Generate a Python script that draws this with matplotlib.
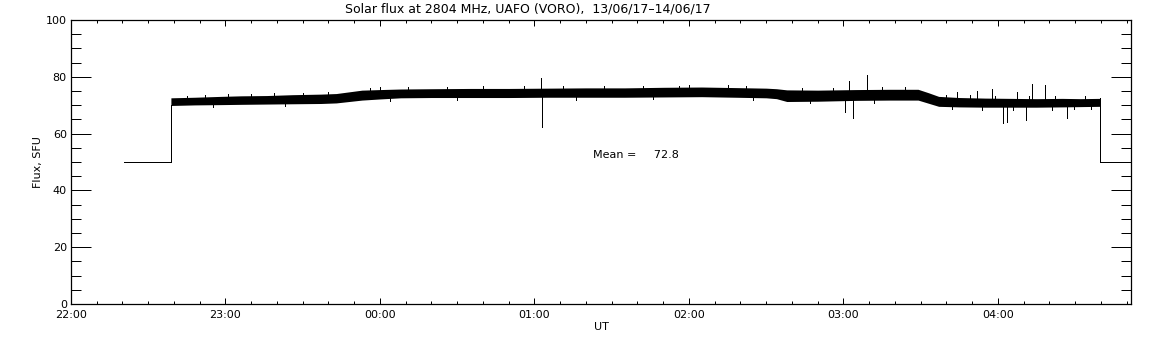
import matplotlib
matplotlib.use('Agg')
import matplotlib.pyplot as plt
from matplotlib.ticker import MultipleLocator, FuncFormatter

# --- data (minutes after 22:00 UT) ---
T_START = 20.6        # recording starts (flat 50 SFU)
T_ON = 38.8           # receiver on
T_OFF = 399.6         # receiver off
T_END = 411.7         # right edge of the axis
FLAT_LEVEL = 50.0
MEAN_FLUX = 72.8

# upper / lower edge of the noisy band
band_t = [38.8, 48, 58, 66, 76, 86, 97, 103, 108, 113, 120, 128, 140, 155,
          170, 185, 200, 215, 230, 245, 258, 270, 274, 278, 290, 305, 318,
          329, 333, 337, 345, 355, 365, 375, 385, 392, 399.6]
band_hi = [72.6, 72.8, 73.1, 73.3, 73.4, 73.7, 73.9, 74.1, 74.7, 75.3, 75.5,
           75.7, 75.8, 75.9, 75.9, 76.0, 76.1, 76.1, 76.3, 76.4, 76.2, 76.0,
           75.8, 75.4, 75.3, 75.5, 75.6, 75.6, 74.4, 73.1, 72.7, 72.5, 72.4,
           72.3, 72.4, 72.3, 72.4]
band_lo = [69.9, 70.1, 70.2, 70.3, 70.4, 70.5, 70.6, 70.8, 71.3, 71.8, 72.2,
           72.6, 72.7, 72.7, 72.7, 72.8, 72.8, 72.8, 72.9, 73.0, 72.8, 72.6,
           72.3, 71.3, 71.4, 71.7, 71.8, 71.8, 70.7, 69.6, 69.4, 69.3, 69.3,
           69.3, 69.4, 69.5, 69.6]

# isolated spikes (time, peak value)
spike_t = [182.5, 182.8, 302.1, 303.7, 309.1, 344.0, 351.8, 357.7, 361.9,
           363.5, 367.4, 370.9, 373.2, 378.3, 386.8, 389.7, 300.6, 236.0,
           120.0, 255.0]
spike_v = [79.6, 62.2, 78.5, 65.6, 80.6, 74.8, 75.0, 75.7, 63.6,
           64.2, 74.5, 64.8, 77.5, 77.0, 65.6, 68.7, 67.5, 76.8,
           76.3, 77.0]

# small ragged excursions at the band edges (time, value)
edge_t = [45, 52, 61, 70, 79, 90, 100, 116, 131, 146, 160, 176, 191, 207,
          222, 240, 262, 284, 296, 315, 324, 340, 349, 359, 372, 382, 394,
          55, 83, 124, 150, 196, 226, 265, 287, 312, 342, 354, 366, 381, 396]
edge_v = [73.3, 73.6, 73.8, 74.0, 74.2, 74.3, 74.6, 76.0, 76.4, 76.5, 76.6,
          76.7, 76.8, 76.9, 76.9, 77.0, 76.9, 76.1, 76.2, 76.3, 76.3, 73.6,
          73.5, 73.4, 73.3, 73.4, 73.3,
          69.3, 69.7, 71.6, 71.9, 72.0, 72.1, 71.9, 70.6, 70.9, 68.6, 68.3,
          68.2, 68.4, 68.7]

W, H = 1152, 345
fig = plt.figure(figsize=(W / 100, H / 100), dpi=100)
ax = fig.add_axes([71 / W, 41 / H, 1060 / W, 284 / H])

lw = 0.72
# flat parts and steps
ax.plot([T_START, T_ON, T_ON], [FLAT_LEVEL, FLAT_LEVEL, band_lo[0]],
        color='black', lw=lw, antialiased=False)
ax.plot([T_OFF, T_OFF, T_END], [band_hi[-1], FLAT_LEVEL, FLAT_LEVEL],
        color='black', lw=lw, antialiased=False)
ax.fill_between(band_t, band_lo, band_hi, color='black', lw=0)


def centre(t):
    i = min(range(len(band_t)), key=lambda k: abs(band_t[k] - t))
    return (band_hi[i] + band_lo[i]) / 2


for t, v in zip(spike_t + edge_t, spike_v + edge_v):
    ax.plot([t, t], [centre(t), v], color='black', lw=lw, antialiased=False)

ax.set_xlim(0, T_END)
ax.set_ylim(0, 100)

fs = 8
fig.text(528 / W, 1 - 9 / H,
         'Solar flux at 2804 MHz, UAFO (VORO),  13/06/17\u201314/06/17',
         fontsize=fs + 1, ha='center', va='center')
ax.set_xlabel('UT', fontsize=fs, labelpad=2)
ax.set_ylabel('Flux, SFU', fontsize=fs, labelpad=2)
ax.text(202.7, 52.5, f'Mean =     {MEAN_FLUX:.1f}', fontsize=fs, va='center')

ax.xaxis.set_major_locator(MultipleLocator(60))
ax.xaxis.set_minor_locator(MultipleLocator(10))
ax.xaxis.set_major_formatter(FuncFormatter(
    lambda m, p: f'{int((22 + m // 60) % 24):02d}:{int(m % 60):02d}'))
ax.yaxis.set_major_locator(MultipleLocator(20))
ax.yaxis.set_minor_locator(MultipleLocator(5))

ax.tick_params(axis='x', which='both', direction='in', top=True, bottom=True,
               labelsize=fs, pad=4, width=0.72)
ax.tick_params(axis='x', which='major', length=4)
ax.tick_params(axis='x', which='minor', length=2)
ax.tick_params(axis='y', which='both', direction='in', left=True, right=True,
               labelsize=fs, pad=3, width=0.72)
ax.tick_params(axis='y', which='major', length=14.5)
ax.tick_params(axis='y', which='minor', length=7.2)
for s in ax.spines.values():
    s.set_linewidth(0.9)

fig.savefig('out.png', dpi=100)
